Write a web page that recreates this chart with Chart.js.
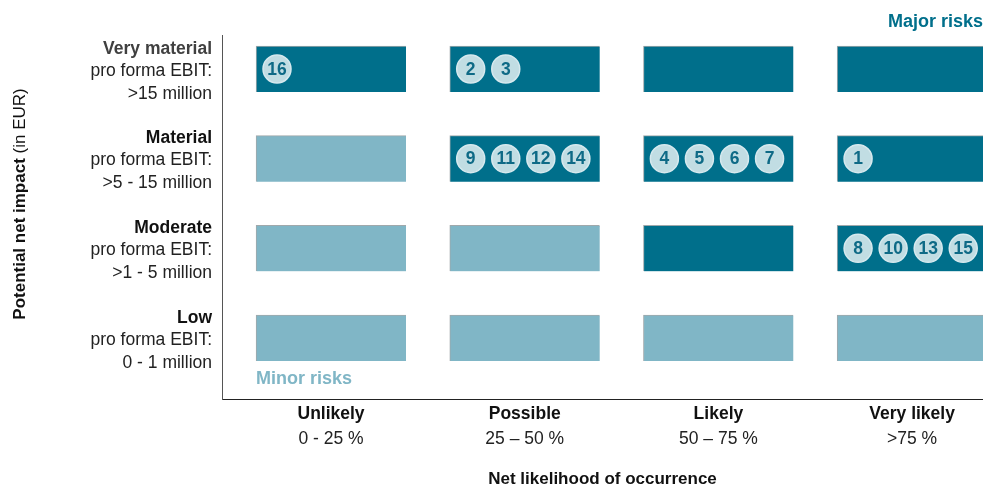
<!DOCTYPE html>
<html>
<head>
<meta charset="utf-8">
<script src="https://cdn.jsdelivr.net/npm/chart.js@4/dist/chart.umd.min.js"></script>
<style>
  html, body { margin: 0; padding: 0; background: #fff; }
  #wrap { width: 983px; height: 486px; }
</style>
</head>
<body>
<div id="wrap"><canvas id="matrix"></canvas></div>
<script>
// likelihood columns (x) and impact rows (y, 0 = Low)
const likelihoodLabels = ['Unlikely', 'Possible', 'Likely', 'Very likely'];
const likelihoodRanges = ['0 - 25 %', '25 \u2013 50 %', '50 \u2013 75 %', '>75 %'];
const impactLabels = ['Low', 'Moderate', 'Material', 'Very material'];
const impactRanges = ['0 - 1 million', '>1 - 5 million', '>5 - 15 million', '>15 million'];

// cell class per impact row (Low..Very material), per likelihood column: 1 = major, 0 = minor
const cellMajor = [
  [0, 0, 0, 0],
  [0, 0, 1, 1],
  [0, 1, 1, 1],
  [1, 1, 1, 1]
];

// risks: id, likelihood column, impact row
const riskIds        = [16, 2, 3, 9, 11, 12, 14, 4, 5, 6, 7, 1, 8, 10, 13, 15];
const riskLikelihood = [0, 1, 1, 1, 1, 1, 1, 2, 2, 2, 2, 3, 3, 3, 3, 3];
const riskImpact     = [3, 3, 3, 2, 2, 2, 2, 2, 2, 2, 2, 2, 1, 1, 1, 1];

const DARK = '#006f8b';
const LIGHT = '#80b6c6';
const FONT = '"Liberation Sans", Arial, sans-serif';

// one floating-bar dataset per likelihood column
const cellSets = likelihoodLabels.map((lab, c) => ({
  type: 'bar',
  indexAxis: 'y',
  label: lab,
  data: impactLabels.map((_, r) => ({ x: [c - 0.387, c + 0.387], y: r })),
  backgroundColor: impactLabels.map((_, r) => cellMajor[r][c] ? DARK : LIGHT),
  borderColor: '#a0a8ab',
  borderWidth: { top: 1, left: 1, right: 0, bottom: 0 },
  borderSkipped: false,
  barThickness: 46,
  grouped: false,
  order: 2
}));

// place risk bubbles side by side inside their cell
const slotCount = {};
const riskPoints = riskIds.map((id, i) => {
  const key = riskLikelihood[i] + '_' + riskImpact[i];
  const k = slotCount[key] || 0;
  slotCount[key] = k + 1;
  return { x: riskLikelihood[i] - 0.279 + k * 0.181, y: riskImpact[i], id: id };
});

const textPlugin = {
  id: 'matrixText',
  afterDatasetsDraw(chart) {
    const c = chart.ctx;
    const xs = chart.scales.x, ys = chart.scales.y, area = chart.chartArea;
    c.save();
    c.textBaseline = 'middle';

    // numbers in bubbles
    const meta = chart.getDatasetMeta(cellSets.length);
    c.textAlign = 'center';
    c.font = 'bold 17.5px ' + FONT;
    c.fillStyle = '#0e6a86';
    meta.data.forEach((pt, i) => {
      c.fillText(String(riskPoints[i].id), pt.x, pt.y + 1);
    });

    // row labels
    c.textAlign = 'right';
    impactLabels.forEach((lab, r) => {
      const y = ys.getPixelForValue(r);
      c.font = 'bold 17.5px ' + FONT;
      c.fillStyle = r === 3 ? '#404040' : '#111';
      c.fillText(lab, 212, y - 20);
      c.font = '17.5px ' + FONT;
      c.fillStyle = '#222';
      c.fillText('pro forma EBIT:', 212, y + 2);
      c.fillText(impactRanges[r], 212, y + 25);
    });

    // column labels
    c.textAlign = 'center';
    likelihoodLabels.forEach((lab, i) => {
      const x = xs.getPixelForValue(i);
      c.font = 'bold 17.5px ' + FONT;
      c.fillStyle = '#111';
      c.fillText(lab, x, 414);
      c.font = '17.5px ' + FONT;
      c.fillStyle = '#222';
      c.fillText(likelihoodRanges[i], x, 439);
    });

    // axis titles
    c.font = 'bold 17px ' + FONT;
    c.fillStyle = '#111';
    c.fillText('Net likelihood of occurrence', (area.left + area.right) / 2, 479);

    c.save();
    c.translate(20, 204);
    c.rotate(-Math.PI / 2);
    const b = 'Potential net impact ';
    const n = '(in EUR)';
    c.font = 'bold 17px ' + FONT;
    const wb = c.measureText(b).width;
    c.font = '17px ' + FONT;
    const wn = c.measureText(n).width;
    c.textAlign = 'left';
    c.font = 'bold 17px ' + FONT;
    c.fillText(b, -(wb + wn) / 2, 0);
    c.font = '17px ' + FONT;
    c.fillText(n, -(wb + wn) / 2 + wb, 0);
    c.restore();

    // zone labels
    c.textAlign = 'left';
    c.font = 'bold 18px ' + FONT;
    c.fillStyle = DARK;
    c.fillText('Major risks', 888, 22);
    c.fillStyle = LIGHT;
    c.fillText('Minor risks', 256, 379);
    c.restore();
  }
};

new Chart(document.getElementById('matrix'), {
  data: {
    datasets: [
      ...cellSets,
      {
        type: 'scatter',
        label: 'Risks',
        data: riskPoints,
        pointRadius: 14,
        pointBackgroundColor: '#c1dde3',
        pointBorderColor: '#d6e9ee',
        pointBorderWidth: 1.5,
        order: 1
      }
    ]
  },
  options: {
    responsive: true,
    maintainAspectRatio: false,
    animation: false,
    events: [],
    layout: { autoPadding: false, padding: { left: 222, top: 35, right: 0, bottom: 87 } },
    plugins: {
      legend: { display: false },
      tooltip: { enabled: false }
    },
    scales: {
      x: {
        type: 'linear',
        offset: false,
        min: -0.563,
        max: 3.366,
        grid: { display: false, drawTicks: false },
        border: { display: true, color: '#222', width: 1 },
        ticks: { display: false },
        afterFit: s => { s.height = 0; }
      },
      y: {
        type: 'linear',
        offset: false,
        min: -0.68,
        max: 3.379,
        grid: { display: false, drawTicks: false },
        border: { display: true, color: '#555', width: 1 },
        ticks: { display: false },
        afterFit: s => { s.width = 0; }
      }
    }
  },
  plugins: [textPlugin]
});
</script>
</body>
</html>
